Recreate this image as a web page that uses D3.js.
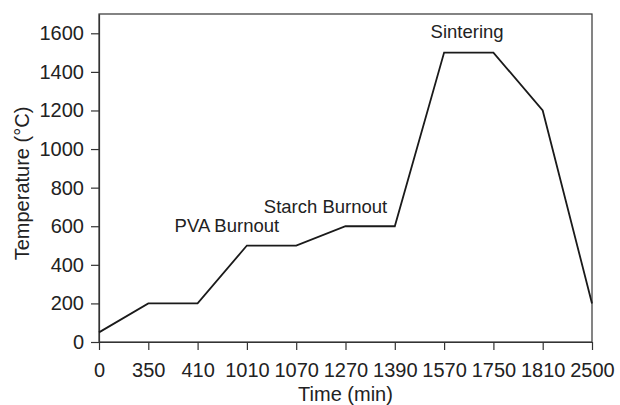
<!DOCTYPE html>
<meta charset="utf-8">
<style>
body { margin: 0; background: #fff; }
svg { font-family: "Liberation Sans", Arial, Helvetica, sans-serif; }
.tick text { fill: #222; font-size: 20px; }
.tick line, .domain { stroke: #333; }
.frame { fill: none; stroke: #333; stroke-width: 1.2px; }
.profile { fill: none; stroke: #1a1a1a; stroke-width: 1.8px; stroke-linejoin: miter; }
.label { fill: #222; font-size: 18.5px; }
.title { fill: #222; font-size: 20px; }
</style>
<svg width="620" height="405"></svg>
<script src="https://d3js.org/d3.v7.min.js"></script>
<script>

var times = ["0", "350", "410", "1010", "1070", "1270", "1390", "1570", "1750", "1810", "2500"];
var temps = [50, 200, 200, 500, 500, 600, 600, 1500, 1500, 1200, 200];
var yTicks = [0, 200, 400, 600, 800, 1000, 1200, 1400, 1600];

var stages = ["PVA Burnout", "Starch Burnout", "Sintering"];
var stageTimes = ["1010", "1270", "1570"];
var stageTemps = [570, 668, 1575];

var svg = d3.select("svg"),
    margin = {top: 14, right: 28, bottom: 63, left: 99},
    width = +svg.attr("width") - margin.left - margin.right,
    height = +svg.attr("height") - margin.top - margin.bottom,
    g = svg.append("g").attr("transform", "translate(" + margin.left + "," + margin.top + ")");

var x = d3.scalePoint()
    .domain(times)
    .range([0, width])
    .padding(0);

var y = d3.scaleLinear()
    .domain([0, 1700])
    .range([height, 0]);

// frame
g.append("rect")
    .attr("class", "frame")
    .attr("width", width)
    .attr("height", height);

var xAxis = g.append("g")
    .attr("transform", "translate(0," + height + ")")
    .call(d3.axisBottom(x).tickSize(8).tickPadding(13).tickSizeOuter(0));

var yAxis = g.append("g")
    .call(d3.axisLeft(y).tickValues(yTicks).tickFormat(d3.format("d")).tickSize(8).tickPadding(7).tickSizeOuter(0));

g.selectAll(".domain").attr("stroke-width", 1.2);
g.selectAll(".tick line").attr("stroke-width", 1.2);
g.selectAll(".tick text").attr("font-family", null).attr("font-size", null);

var data = times.map(function(t, i) { return {t: t, v: temps[i]}; });

var line = d3.line()
    .x(function(d) { return x(d.t); })
    .y(function(d) { return y(d.v); });

g.append("path")
    .datum(data)
    .attr("class", "profile")
    .attr("d", line);

// stage annotations, shifted a bit from the step they belong to
var shift = [-20, -20, 23];
g.selectAll(".label")
    .data(stages)
  .enter().append("text")
    .attr("class", "label")
    .attr("text-anchor", "middle")
    .attr("x", function(d, i) { return x(stageTimes[i]) + shift[i]; })
    .attr("y", function(d, i) { return y(stageTemps[i]); })
    .text(function(d) { return d; });

svg.append("text")
    .attr("class", "title")
    .attr("text-anchor", "middle")
    .attr("x", margin.left + width / 2)
    .attr("y", 401)
    .text("Time (min)");

svg.append("text")
    .attr("class", "title")
    .attr("text-anchor", "middle")
    .attr("transform", "translate(29,183.5) rotate(-90)")
    .text("Temperature (°C)");

</script>
